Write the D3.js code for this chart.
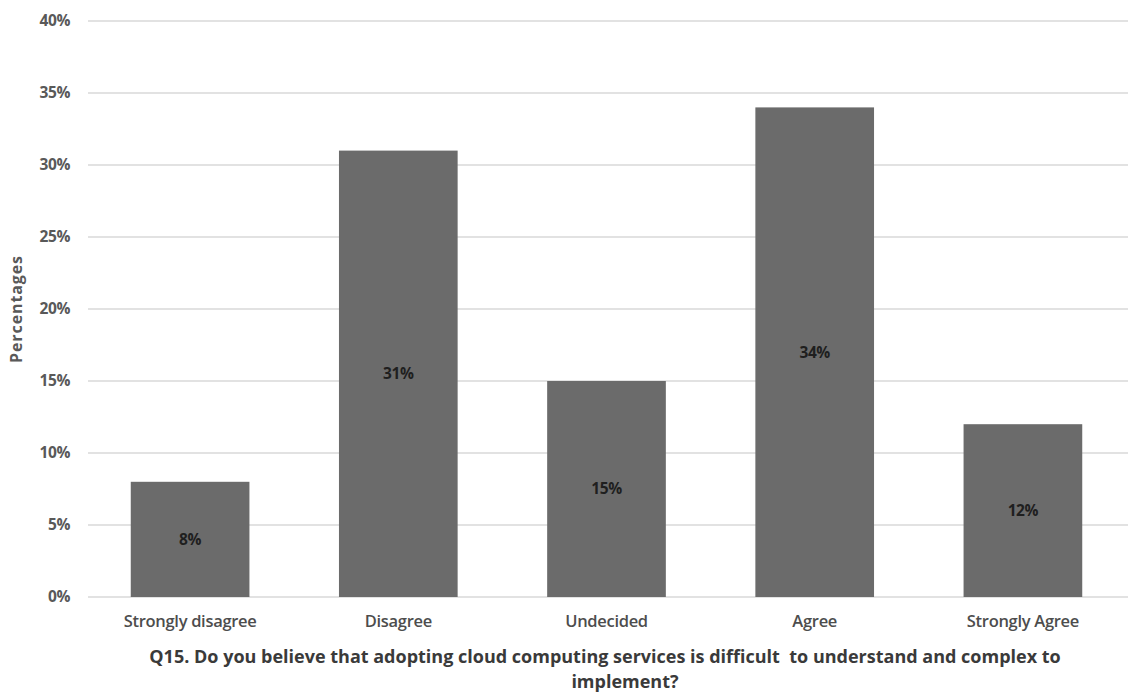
<!DOCTYPE html>
<html>
<head>
<meta charset="utf-8">
<script src="https://cdn.jsdelivr.net/npm/d3@7"></script>
<style>
  html, body { margin: 0; padding: 0; background: #ffffff; }
  svg { display: block; font-family: "Open Sans", sans-serif; }
</style>
</head>
<body>
<svg id="chart" width="1128" height="694"></svg>
<script>
// Survey responses for Q15
const categories = ["Strongly disagree", "Disagree", "Undecided", "Agree", "Strongly Agree"];
const percentages = [8, 31, 15, 34, 12];
const yTicks = [0, 5, 10, 15, 20, 25, 30, 35, 40];
const titleLines = [
  "Q15. Do you believe that adopting cloud computing services is difficult  to understand and complex to",
  "implement?"
];

const svg = d3.select("#chart");
const margin = { left: 86, right: 1, top: 21, bottom: 97 };
const W = 1128, H = 694;
const FONT = "'Open Sans', sans-serif";

const x = d3.scaleBand()
  .domain(categories)
  .range([margin.left, W - margin.right])
  .paddingInner(0.43)
  .paddingOuter(0.215);

const y = d3.scaleLinear()
  .domain([0, 40])
  .range([H - margin.bottom, margin.top]);

// Horizontal gridlines
svg.append("g")
  .selectAll("line")
  .data(yTicks)
  .join("line")
  .attr("x1", margin.left + 2)
  .attr("x2", W)
  .attr("y1", d => y(d))
  .attr("y2", d => y(d))
  .attr("stroke", "#d9d9d9")
  .attr("stroke-width", 1.3);

// Y axis tick labels
const yAxis = d3.axisLeft(y)
  .tickValues(yTicks)
  .tickFormat(d => d + "%")
  .tickSize(0)
  .tickPadding(16);
const gy = svg.append("g")
  .attr("transform", `translate(${margin.left},0)`)
  .call(yAxis);
gy.select(".domain").remove();
gy.selectAll("text")
  .attr("fill", "#595959")
  .attr("font-size", 15.5)
  .attr("font-weight", 700)
  .attr("letter-spacing", -0.4)
  .attr("font-family", FONT);

// Bars
svg.append("g")
  .selectAll("rect")
  .data(percentages)
  .join("rect")
  .attr("x", (d, i) => x(categories[i]))
  .attr("width", x.bandwidth())
  .attr("y", d => y(d))
  .attr("height", d => y(0) - y(d))
  .attr("fill", "#6b6b6b");

// Value labels centred in each bar
svg.append("g")
  .selectAll("text")
  .data(percentages)
  .join("text")
  .attr("x", (d, i) => x(categories[i]) + x.bandwidth() / 2)
  .attr("y", d => (y(d) + y(0)) / 2)
  .attr("dy", "0.35em")
  .attr("text-anchor", "middle")
  .attr("font-size", 15.5)
  .attr("font-weight", 700)
  .attr("letter-spacing", -0.4)
  .attr("fill", "#1f1f1f")
  .text(d => d + "%");

// Category axis
const xAxis = d3.axisBottom(x).tickSize(0).tickPadding(18);
const gx = svg.append("g")
  .attr("transform", `translate(0,${y(0)})`)
  .call(xAxis);
gx.select(".domain").remove();
gx.selectAll("text")
  .attr("fill", "#4d4d4d")
  .attr("font-size", 16.5)
  .attr("font-weight", 600)
  .attr("letter-spacing", -0.3)
  .attr("font-family", FONT);

// Axis title
svg.append("text")
  .attr("transform", `translate(22,${(y(0) + y(40)) / 2}) rotate(-90)`)
  .attr("text-anchor", "middle")
  .attr("font-size", 16)
  .attr("font-weight", 700)
  .attr("letter-spacing", 0.9)
  .attr("fill", "#595959")
  .text("Percentages");

// Chart title beneath the axis; the first line keeps its trailing space
const titleX = [605, 625];
svg.append("g")
  .selectAll("text")
  .data(titleLines)
  .join("text")
  .attr("x", (d, i) => titleX[i])
  .attr("y", (d, i) => 663 + i * 25)
  .attr("text-anchor", "middle")
  .attr("font-size", 18)
  .attr("font-weight", 700)
  .attr("fill", "#3a3a3a")
  .attr("xml:space", "preserve")
  .style("white-space", "pre")
  .text(d => d);
</script>
</body>
</html>
